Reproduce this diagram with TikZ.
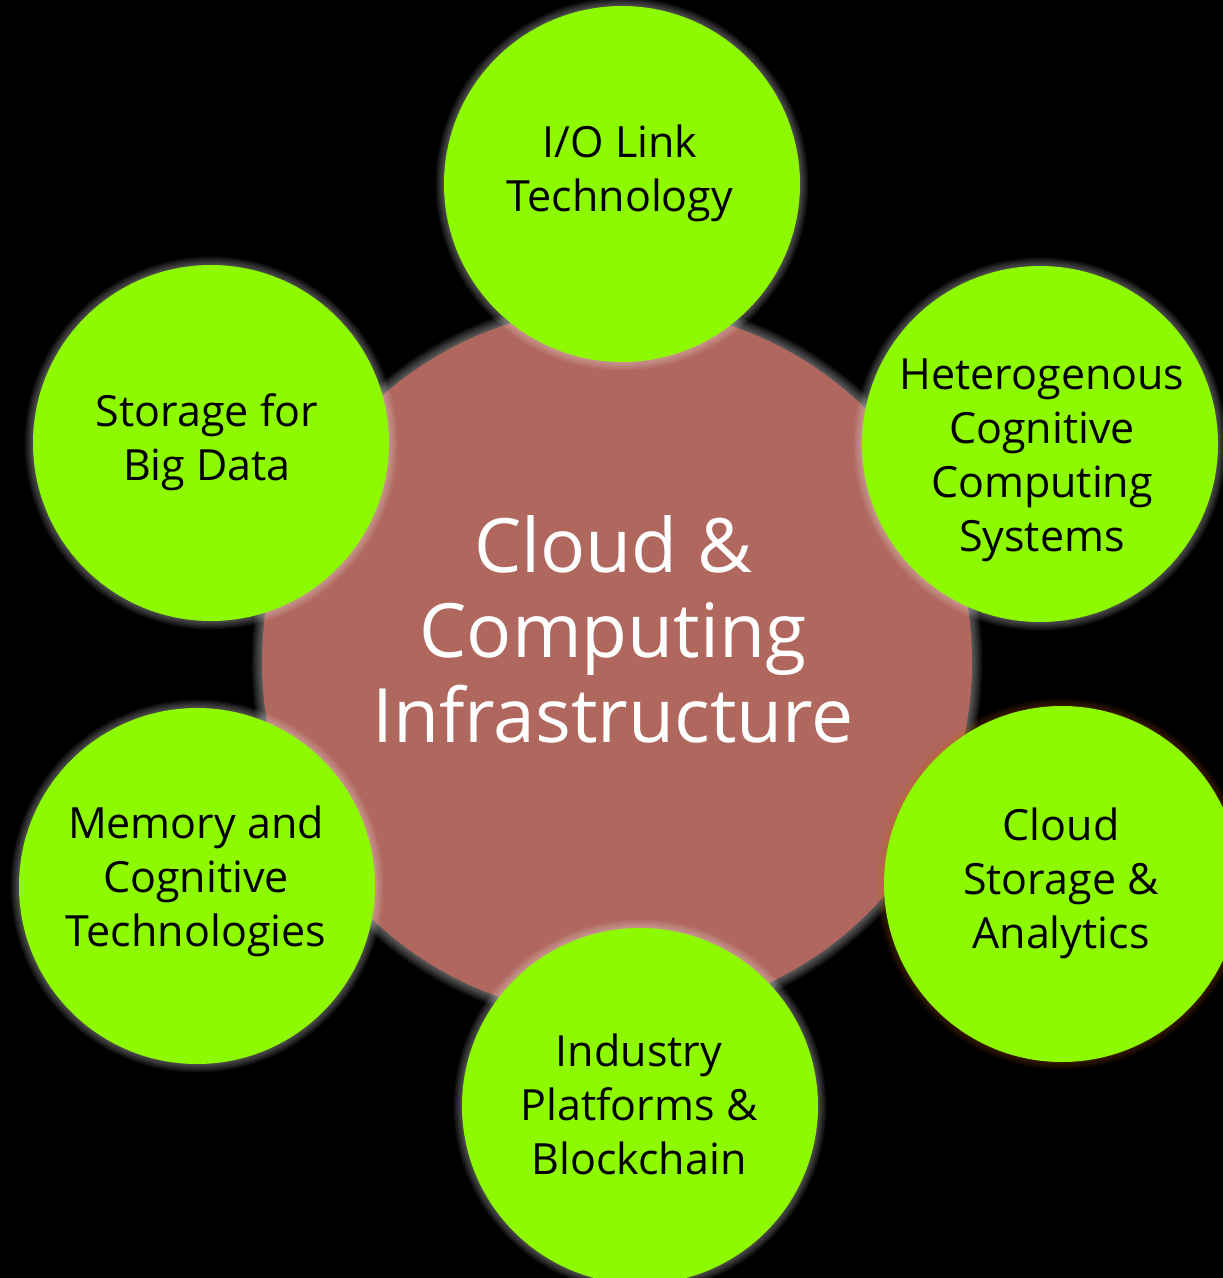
\documentclass[tikz,border=0pt]{standalone}
\usepackage{fontspec}
\setmainfont{Open Sans}
\definecolor{bub}{RGB}{141,250,0}
\definecolor{core}{RGB}{176,104,94}
\tikzset{
  bubble/.style={circle, fill=bub, minimum size=356pt, inner sep=0pt},
  bubtext/.style={align=center, text=black, font=\fontsize{43}{54}\selectfont},
  coretext/.style={align=center, text=white, font=\fontsize{75}{85}\selectfont},
}
\newcommand{\myglow}[3]{%
  \foreach \i in {1,...,8}{\fill[#3, opacity=0.05] (#1) circle ({#2+\i*1.3});}}
\begin{document}
\begin{tikzpicture}[x=1pt,y=-1pt]
\fill[black] (0,0) rectangle (1223,1278);
\useasboundingbox (0,0) rectangle (1223,1278);
% core
\myglow{617,662}{355}{white}
\node[circle, fill=core, minimum size=710pt, inner sep=0pt] (core) at (617,662) {};
\node[coretext] (coret) at (613,629) {Cloud \&\\Computing\\Infrastructure};
% bubbles
\myglow{622,184}{176}{white}
\node[bubble] (io) at (622,184) {};
\myglow{1040,444}{176}{white}
\node[bubble] (het) at (1040,444) {};
\myglow{1062,884}{175}{orange!80!black}
\node[bubble] (cs) at (1062,884) {};
\myglow{640,1106}{176}{white}
\node[bubble] (ind) at (640,1106) {};
\myglow{197,886}{176}{white}
\node[bubble] (mem) at (197,886) {};
\myglow{211,443}{176}{white}
\node[bubble] (sbd) at (211,443) {};
% texts
\node[bubtext] (iot) at (620,173) {I/O Link\\Technology};
\node[bubtext] (hett) at (1042,460) {Heterogenous\\Cognitive\\Computing\\Systems};
\node[bubtext] (cst) at (1061,883) {Cloud\\Storage \&\\Analytics};
\node[bubtext] (indt) at (639,1104) {Industry\\Platforms \&\\Blockchain};
\node[bubtext] (memt) at (196,881) {Memory and\\Cognitive\\Technologies};
\node[bubtext] (sbdt) at (207,442) {Storage for\\Big Data};
\end{tikzpicture}
\end{document}
